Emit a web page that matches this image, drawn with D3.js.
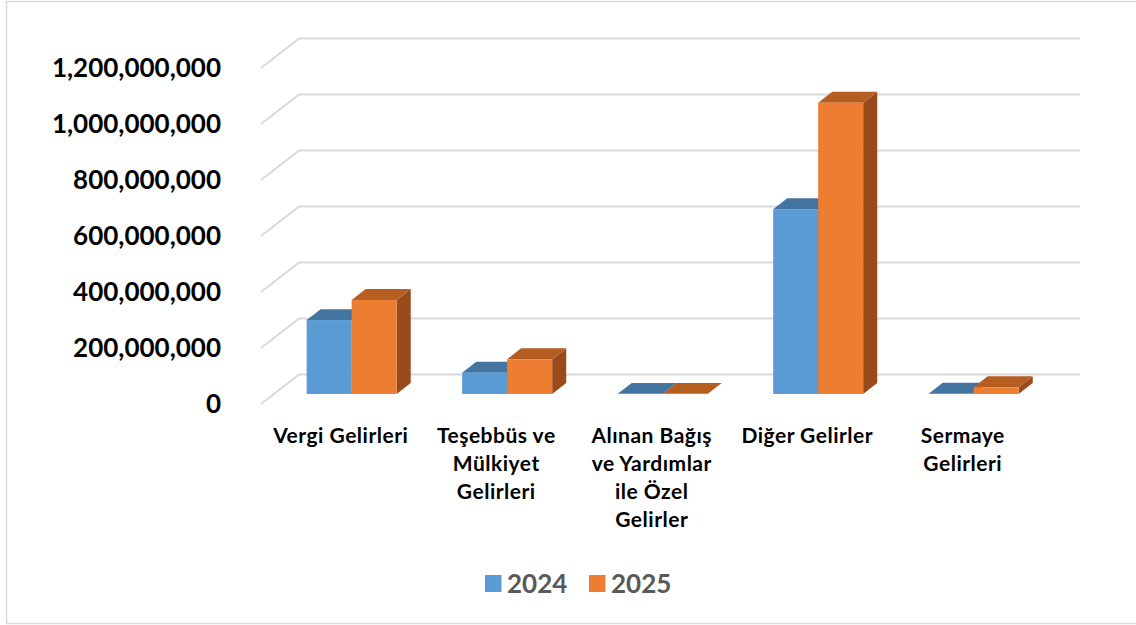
<!DOCTYPE html>
<html>
<head>
<meta charset="utf-8">
<script src="https://cdn.jsdelivr.net/npm/d3@7"></script>
<style>
  body { margin: 0; background: #fff; }
  svg { display: block; }
</style>
</head>
<body>
<div id="chart"></div>
<script>
// data
const categories = ["Vergi Gelirleri", "Teşebbüs ve Mülkiyet Gelirleri", "Alınan Bağış ve Yardımlar ile Özel Gelirler", "Diğer Gelirler", "Sermaye Gelirleri"];
const categoryLines = [
  ["Vergi Gelirleri"],
  ["Teşebbüs ve", "Mülkiyet", "Gelirleri"],
  ["Alınan Bağış", "ve Yardımlar", "ile Özel", "Gelirler"],
  ["Diğer Gelirler"],
  ["Sermaye", "Gelirleri"]
];
const seriesNames = ["2024", "2025"];
const values2024 = [264000000, 76000000, 500000, 660000000, 1000000];
const values2025 = [336000000, 124000000, 500000, 1040000000, 24000000];
const yTicks = [0, 200000000, 400000000, 600000000, 800000000, 1000000000, 1200000000];

const W = 1136, H = 625;
// front plane of the box, plus how far the back wall is pushed
const x0 = 261, x1 = 1038.5;
const DX = 38, DY = 29.5;
const zFront = 0.34, zBack = 0.71; // where bars sit inside the depth

const svg = d3.select("#chart")
  .append("svg")
    .attr("width", W)
    .attr("height", H);

// light border round the chart
svg.append("rect")
  .attr("x", 6.5).attr("y", 1.5)
  .attr("width", 1140).attr("height", 622)
  .attr("fill", "none")
  .attr("stroke", "#d9d9d9")
  .attr("stroke-width", 1.5);

const x = d3.scaleBand()
  .domain(categories)
  .range([x0, x1]);

const y = d3.scaleLinear()
  .domain([0, 1200000000])
  .range([404, 68]);

const sub = d3.scaleBand()
  .domain(seriesNames)
  .range([0, 90]);

const color = d3.scaleOrdinal().domain(seriesNames).range(["#5B9BD5", "#ED7D31"]);
const topColor = d3.scaleOrdinal().domain(seriesNames).range(["#4475a1", "#b65d22"]);
const sideColor = d3.scaleOrdinal().domain(seriesNames).range(["#3a648c", "#9a4b1c"]);

// project a point at depth z (0 = front, 1 = back wall)
const px = (xx, z) => xx + z * DX;
const py = (yy, z) => yy - z * DY;

// gridlines: diagonal on the side wall then along the back wall
svg.append("g")
  .selectAll("polyline")
  .data(yTicks)
  .join("polyline")
    .attr("points", d => [[x0, y(d)], [px(x0, 1), py(y(d), 1)], [px(x1, 1) + 3.5, py(y(d), 1)]].join(" "))
    .attr("fill", "none")
    .attr("stroke", "#d9d9d9")
    .attr("stroke-width", 2);

// y labels
svg.append("g")
  .selectAll("text")
  .data(yTicks)
  .join("text")
    .attr("x", 221)
    .attr("y", d => y(d))
    .attr("dy", "0.36em")
    .attr("text-anchor", "end")
    .style("font-family", "Lato, sans-serif")
    .style("font-weight", "bold")
    .style("font-size", "26px")
    .style("fill", "#000")
    .text(d3.format(","));

// bars
const bars = [];
categories.forEach((c, i) => {
  bars.push({ cat: c, s: "2024", v: values2024[i] });
  bars.push({ cat: c, s: "2025", v: values2025[i] });
});

const gBars = svg.append("g");
bars.forEach(b => {
  const left = x(b.cat) + x.bandwidth() / 2 - 45 + sub(b.s);
  const right = left + sub.bandwidth();
  const yb = y(0), yt = y(b.v);
  const g = gBars.append("g");
  // right side
  g.append("polygon")
    .attr("points", [[px(right, zFront), py(yt, zFront)], [px(right, zBack), py(yt, zBack)],
                     [px(right, zBack), py(yb, zBack)], [px(right, zFront), py(yb, zFront)]].join(" "))
    .attr("fill", sideColor(b.s));
  // top
  g.append("polygon")
    .attr("points", [[px(left, zFront), py(yt, zFront)], [px(left, zBack), py(yt, zBack)],
                     [px(right, zBack), py(yt, zBack)], [px(right, zFront), py(yt, zFront)]].join(" "))
    .attr("fill", topColor(b.s));
  // front
  g.append("rect")
    .attr("x", px(left, zFront))
    .attr("y", py(yt, zFront))
    .attr("width", sub.bandwidth())
    .attr("height", yb - yt)
    .attr("fill", color(b.s));
});

// category labels
const gCat = svg.append("g")
  .style("font-family", "Lato, sans-serif")
  .style("font-weight", "bold")
  .style("font-size", "21px")
  .style("letter-spacing", "0.5px")
  .style("fill", "#000");
categories.forEach((c, i) => {
  const cx = x(c) + x.bandwidth() / 2 + 2;
  const t = gCat.append("text")
    .attr("text-anchor", "middle")
    .attr("x", cx)
    .attr("y", 443);
  categoryLines[i].forEach((line, k) => {
    t.append("tspan")
      .attr("x", cx)
      .attr("dy", k === 0 ? 0 : 28)
      .text(line);
  });
});

// legend
const legend = svg.append("g");
const legendX = [485, 589];
seriesNames.forEach((s, i) => {
  legend.append("rect")
    .attr("x", legendX[i]).attr("y", 575)
    .attr("width", 16.5).attr("height", 17)
    .attr("fill", color(s));
  legend.append("text")
    .attr("x", legendX[i] + 22)
    .attr("y", 592.5)
    .style("font-family", "Lato, sans-serif")
    .style("font-weight", "bold")
    .style("font-size", "26px")
    .style("fill", "#595959")
    .text(s);
});
</script>
</body>
</html>
